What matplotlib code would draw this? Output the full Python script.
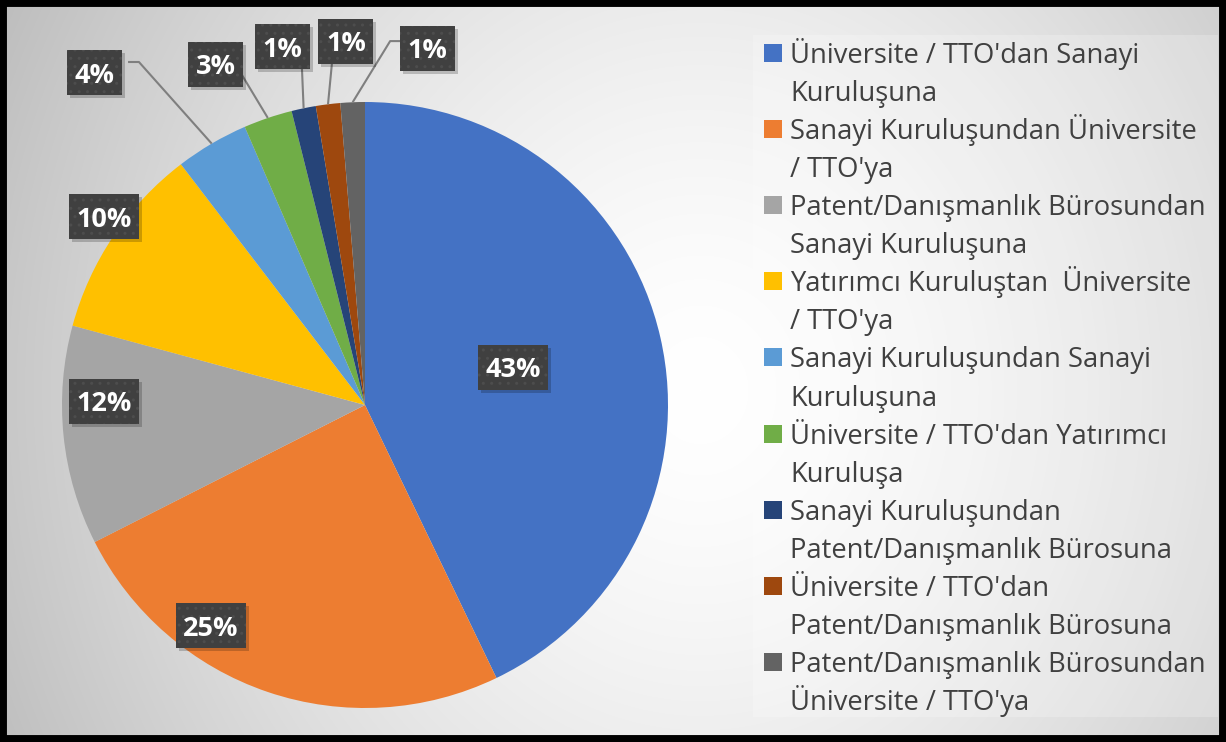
import numpy as np
import matplotlib
matplotlib.use('Agg')
import matplotlib.pyplot as plt
from matplotlib.patches import Rectangle
from matplotlib.transforms import IdentityTransform

# ---------------- data ----------------
categories = [
    "Üniversite / TTO'dan Sanayi\nKuruluşuna",
    "Sanayi Kuruluşundan Üniversite\n/ TTO'ya",
    "Patent/Danışmanlık Bürosundan\nSanayi Kuruluşuna",
    "Yatırımcı Kuruluştan  Üniversite\n/ TTO'ya",
    "Sanayi Kuruluşundan Sanayi\nKuruluşuna",
    "Üniversite / TTO'dan Yatırımcı\nKuruluşa",
    "Sanayi Kuruluşundan\nPatent/Danışmanlık Bürosuna",
    "Üniversite / TTO'dan\nPatent/Danışmanlık Bürosuna",
    "Patent/Danışmanlık Bürosundan\nÜniversite / TTO'ya",
]
counts = [33, 19, 9, 8, 3, 2, 1, 1, 1]
colors = ['#4472C4', '#ED7D31', '#A5A5A5', '#FFC000', '#5B9BD5',
          '#70AD47', '#264478', '#9E480E', '#636363']

# ---------------- layout ----------------
W, H = 1226, 742
DPI = 100
# label centres in pie-axes data coords
label_xy = [(0.488, 0.124), (-0.508, -0.729), (-0.861, 0.013), (-0.861, 0.622),
            (-0.893, 1.096), (-0.493, 1.124), (-0.272, 1.183), (-0.063, 1.200),
            (0.206, 1.177)]
# leader line start points (box anchor, optional elbow) in data coords
leader_pts = {4: [(-0.782, 1.132), (-0.746, 1.132)],
              5: [(-0.406, 1.089)],
              6: [(-0.208, 1.109)],
              7: [(-0.109, 1.129)],
              8: [(0.122, 1.201), (0.083, 1.201)]}

FONT = ['Open Sans', 'DejaVu Sans']
plt.rcParams['font.family'] = FONT

fig = plt.figure(figsize=(W / DPI, H / DPI), dpi=DPI)

# background gradient
bg = fig.add_axes([0, 0, 1, 1], zorder=-10)
yy, xx = np.mgrid[0:H, 0:W]
r = np.sqrt(((xx - 700) / 680.0) ** 2 + ((yy - 390) / 760.0) ** 2)
v = np.clip(1 - 0.21 * r ** 1.5, 0.74, 1.0)
bg.imshow(np.dstack([v, v, v]), extent=(0, W, H, 0), aspect='auto',
          interpolation='bilinear')
bg.set_axis_off()

# pie axes: centre (365,405) px, radius 303 px
cx, cy, R = 365, 405, 303
ax = fig.add_axes([(cx - R) / W, 1 - (cy + R) / H, 2 * R / W, 2 * R / H])
ax.set_facecolor('none')
wedges, _ = ax.pie(counts, colors=colors, startangle=90, counterclock=False,
                   radius=1, wedgeprops=dict(linewidth=0))
ax.set_xlim(-1, 1)
ax.set_ylim(-1, 1)
ax.set_axis_off()

total = sum(counts)
pcts = [f"{round(100 * c / total)}%" for c in counts]

# leader lines
for i, pts in leader_pts.items():
    w = wedges[i]
    th = np.deg2rad((w.theta1 + w.theta2) / 2)
    xs = [p[0] for p in pts] + [np.cos(th)]
    ys = [p[1] for p in pts] + [np.sin(th)]
    ax.plot(xs, ys, color='#7f7f7f', lw=1.5, clip_on=False, zorder=3,
            solid_capstyle='butt')

LBL_FS = 19.5
# measure label text widths
texts = []
for (lx, ly), p in zip(label_xy, pcts):
    t = ax.text(lx, ly, p, color='white', fontsize=LBL_FS, fontweight='bold',
                ha='center', va='center_baseline', clip_on=False)
    texts.append(t)

fig.canvas.draw()
renderer = fig.canvas.get_renderer()
for t, (lx, ly) in zip(texts, label_xy):
    bb = t.get_window_extent(renderer)
    px, py = ax.transData.transform((lx, ly))
    bw = bb.width + 15
    bh = 45
    fig.add_artist(Rectangle((px - bw / 2 + 3, py - bh / 2 - 3), bw, bh,
                             transform=IdentityTransform(), facecolor='black',
                             alpha=0.2, linewidth=0, zorder=4))
    fig.add_artist(Rectangle((px - bw / 2, py - bh / 2), bw, bh,
                             transform=IdentityTransform(), facecolor='#404040',
                             edgecolor='#4d4d4d', linewidth=0, hatch='..',
                             zorder=5))
    txt = t.get_text()
    t.remove()
    fig.text(px, py, txt, color='white', fontsize=LBL_FS,
             fontweight='bold', ha='center', va='center_baseline',
             transform=IdentityTransform(), zorder=8)

# legend panel
fig.add_artist(Rectangle((753, H - 717), 465, 682, transform=IdentityTransform(),
                         facecolor='white', alpha=0.22, linewidth=0, zorder=1))
step = 38.06
for i, (lab, col) in enumerate(zip(categories, colors)):
    base = 63 + step * 2 * i
    fig.add_artist(Rectangle((764, H - (base - 1)), 18, 18,
                             transform=IdentityTransform(), facecolor=col,
                             linewidth=0, zorder=2))
    for k, line in enumerate(lab.split('\n')):
        fig.text(790, H - (base + step * k), line, color='#404040', fontsize=19.7,
                 ha='left', va='baseline', transform=IdentityTransform(),
                 zorder=2)

# border
fig.add_artist(Rectangle((0, 0), 1, 1, transform=fig.transFigure, fill=False,
                         edgecolor='black', linewidth=10, zorder=20))

fig.savefig('out.png', dpi=DPI)
